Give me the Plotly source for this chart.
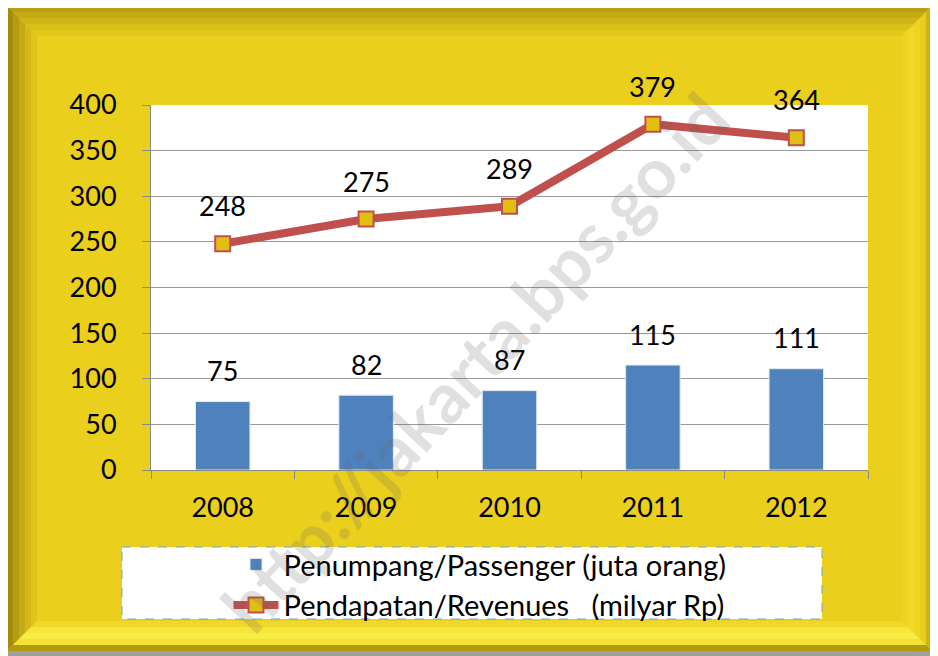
import plotly.graph_objects as go

years = ["2008", "2009", "2010", "2011", "2012"]
passengers = [75, 82, 87, 115, 111]
revenues = [248, 275, 289, 379, 364]
passenger_name = "Penumpang/Passenger (juta orang)"
revenue_name = "Pendapatan/Revenues   (milyar Rp)"
y_ticks = [0, 50, 100, 150, 200, 250, 300, 350, 400]

OFF = 8  # page body margin
W, H = 938 - OFF, 656 - OFF
# plot area in reference-picture pixels
RL, RR, RT, RB = 151, 868, 105, 470
L, R, T, B = RL - OFF, RR - OFF, RT - OFF, RB - OFF
FONT = "Lato"


def px(x):
    return (x - RL) / (RR - RL)


def py(y):
    return (RB - y) / (RB - RT)


def poly(pts):
    return "M " + " L ".join(f"{px(x):.5f},{py(y):.5f}" for x, y in pts) + " Z"


shapes = []
shapes.append(dict(type="path", xref="paper", yref="paper", layer="below",
                   path=poly([(4, 3), (938, 3), (938, 656), (4, 656)]),
                   fillcolor="#a0a0a0", line=dict(width=0)))
shapes.append(dict(type="path", xref="paper", yref="paper", layer="below",
                   path=poly([(7, 6), (932, 6), (932, 651), (7, 651)]),
                   fillcolor="#EBCF1D", line=dict(width=0)))

X0, Y0, X1, Y1 = 7, 6, 932, 651
bev = {
    "top": ["#b89e12", "#c5aa15", "#d0b517", "#dabe19", "#e3c71b"],
    "left": ["#a38b0e", "#b49b11", "#c4aa15", "#d3b818", "#e0c41a"],
    "right": ["#cfb417", "#e8cc1e", "#f0d423", "#f3d727", "#efd323"],
    "bottom": ["#b39a10", "#f3e236", "#f9ec42", "#f6e53a", "#efd82c"],
}
n = 5
step = 30 / n
for side, cols in bev.items():
    for i, c in enumerate(cols):
        a, b = i * step, (i + 1) * step
        if side == "top":
            pts = [(X0 + a, Y0 + a), (X1 - a, Y0 + a), (X1 - b, Y0 + b), (X0 + b, Y0 + b)]
        elif side == "bottom":
            pts = [(X0 + a, Y1 - a), (X1 - a, Y1 - a), (X1 - b, Y1 - b), (X0 + b, Y1 - b)]
        elif side == "left":
            pts = [(X0 + a, Y0 + a), (X0 + b, Y0 + b), (X0 + b, Y1 - b), (X0 + a, Y1 - a)]
        else:
            pts = [(X1 - a, Y0 + a), (X1 - b, Y0 + b), (X1 - b, Y1 - b), (X1 - a, Y1 - a)]
        shapes.append(dict(type="path", xref="paper", yref="paper", layer="below",
                           path=poly(pts), fillcolor=c, line=dict(width=0)))

shapes.append(dict(type="path", xref="paper", yref="paper", layer="below",
                   path=poly([(RL, RT), (RR, RT), (RR, RB), (RL, RB)]),
                   fillcolor="white", line=dict(width=0)))
shapes.append(dict(type="path", xref="paper", yref="paper", layer="below",
                   path=poly([(122, 547), (822, 547), (822, 619), (122, 619)]),
                   fillcolor="white", line=dict(width=1, color="#6fa0d8", dash="dash")))

fig = go.Figure()
fig.add_trace(go.Bar(
    x=years, y=passengers, name=passenger_name, width=0.38,
    marker=dict(color="#4F81BD", line=dict(width=1, color="#e4eaf2")),
))
fig.add_trace(go.Scatter(
    x=years, y=revenues, name=revenue_name, mode="lines+markers",
    line=dict(color="#C0504D", width=8),
    marker=dict(symbol="square", size=15, color="#E0BE14",
                line=dict(color="#C0504D", width=2)),
))

annotations = []
for i, v in enumerate(passengers):
    annotations.append(dict(x=i, y=v, xref="x", yref="y", text=str(v), showarrow=False, yshift=31,
                            font=dict(family=FONT, size=27, color="black")))
for i, v in enumerate(revenues):
    annotations.append(dict(x=i, y=v, xref="x", yref="y", text=str(v), showarrow=False, yshift=38,
                            font=dict(family=FONT, size=27, color="black")))
annotations.append(dict(xref="paper", yref="paper", x=px(474), y=py(362),
                        text="<b>http://jakarta.bps.go.id</b>", showarrow=False,
                        textangle=-47, xanchor="center", yanchor="middle",
                        font=dict(family=FONT, size=70, color="rgba(100,100,100,0.2)")))

fig.update_layout(
    width=W, height=H,
    margin=dict(l=L, r=W - R, t=T, b=H - B, pad=0),
    paper_bgcolor="white", plot_bgcolor="white",
    shapes=shapes, annotations=annotations,
    font=dict(family=FONT, size=27, color="black"),
    showlegend=True,
    legend=dict(x=px(480), y=py(539), xanchor="center", yanchor="top",
                bgcolor="rgba(0,0,0,0)", borderwidth=0,
                font=dict(family=FONT, size=29, color="black"),
                itemwidth=45, tracegroupgap=0),
    xaxis=dict(type="category", categoryorder="array", categoryarray=years,
               tickson="boundaries", ticks="outside", ticklen=8,
               tickcolor="#888", showline=True, linecolor="#888", linewidth=1,
               showgrid=False, ticklabelstandoff=14, range=[-0.5, 4.5],
               tickfont=dict(family=FONT, size=27, color="black")),
    yaxis=dict(range=[0, 400], tickvals=y_ticks, ticks="outside", ticklen=8,
               tickcolor="#888", showline=True, linecolor="#888", linewidth=1,
               showgrid=True, gridcolor="#999", gridwidth=1, zeroline=False,
               ticklabelstandoff=20,
               tickfont=dict(family=FONT, size=27, color="black")),
)

fig.write_html("out.html")
